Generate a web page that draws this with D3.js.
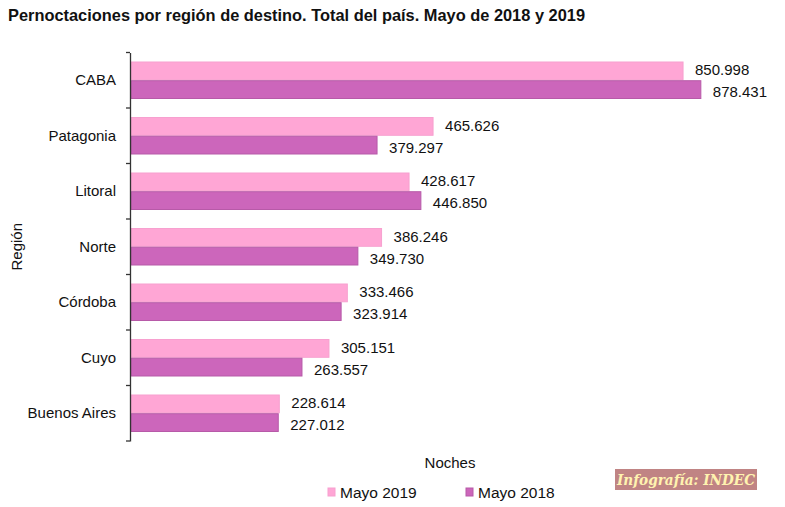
<!DOCTYPE html>
<meta charset="utf-8">
<script src="https://d3js.org/d3.v7.min.js"></script>
<style>
  body { margin: 0; background: #fff; }
  text { font-family: "Liberation Sans", Arial, sans-serif; }
</style>
<div id="chart"></div>
<script>

// data
var regions = ["CABA", "Patagonia", "Litoral", "Norte", "Córdoba", "Cuyo", "Buenos Aires"];
var series = ["Mayo 2019", "Mayo 2018"];
var may2019 = [850998, 465626, 428617, 386246, 333466, 305151, 228614];
var may2018 = [878431, 379297, 446850, 349730, 323914, 263557, 227012];
var colors = ["#ffa6d5", "#cc66bb"];
var strokes = ["#f7a0cf", "#b75aa8"];

var W = 785, H = 507;
var fmt = d3.format(",");
function label(v) { return fmt(v).replace(/,/g, "."); }

var rows = regions.map(function(r, i) {
  return { region: r, values: [may2019[i], may2018[i]] };
});

var svg = d3.select("#chart").append("svg")
  .attr("width", W).attr("height", H);

// scales
var x = d3.scaleLinear().domain([0, 1000000]).range([131, 131 + 648.7]);
var y = d3.scaleBand().domain(regions).range([52.5, 441]);
var y1 = d3.scaleBand().domain(series).range([9.5, 46]).paddingInner(0.05);

// title
svg.append("text")
  .attr("x", 8).attr("y", 21)
  .attr("textLength", 577).attr("lengthAdjust", "spacingAndGlyphs")
  .style("font-family", "'Liberation Sans Narrow', 'Liberation Sans', sans-serif")
  .style("font-weight", "bold").style("font-size", "17px")
  .style("fill", "#111")
  .text("Pernoctaciones por región de destino. Total del país. Mayo de 2018 y 2019");

// bars
var g = svg.selectAll(".grp")
  .data(rows)
  .enter().append("g")
    .attr("transform", function(d) { return "translate(0," + y(d.region) + ")"; });

g.selectAll("rect")
  .data(function(d) { return d.values.map(function(v, i) { return { key: series[i], i: i, v: v }; }); })
  .enter().append("rect")
    .attr("x", x(0))
    .attr("y", function(d) { return y1(d.key); })
    .attr("width", function(d) { return x(d.v) - x(0); })
    .attr("height", y1.bandwidth())
    .style("fill", function(d) { return colors[d.i]; })
    .style("stroke", function(d) { return strokes[d.i]; })
    .style("stroke-width", 1);

g.selectAll(".val")
  .data(function(d) { return d.values.map(function(v, i) { return { key: series[i], i: i, v: v }; }); })
  .enter().append("text")
    .attr("class", "val")
    .attr("x", function(d) { return x(d.v) + 12; })
    .attr("y", function(d) { return y1(d.key) + y1.bandwidth() / 2 + (d.i === 1 ? 2 : -1); })
    .attr("dominant-baseline", "central")
    .style("font-size", "15px").style("fill", "#111")
    .text(function(d) { return label(d.v); });

// y axis
var yAxis = svg.append("g")
  .attr("transform", "translate(130,0)")
  .call(d3.axisLeft(y).tickSize(0).tickPadding(14));
yAxis.select(".domain").attr("stroke", "#333").attr("stroke-width", 1.3);
yAxis.selectAll(".tick text")
  .style("font-size", "15px").style("fill", "#111")
  .style("font-family", "'Liberation Sans', Arial, sans-serif");

// boundary ticks between bands
var bounds = regions.map(function(r) { return y(r); }).concat([y.range()[1]]);
yAxis.selectAll(".bound")
  .data(bounds)
  .enter().append("line")
    .attr("x1", -4).attr("x2", 0)
    .attr("y1", function(d) { return d; }).attr("y2", function(d) { return d; })
    .attr("stroke", "#333").attr("stroke-width", 1.3);

// axis titles
svg.append("text")
  .attr("transform", "translate(22," + (y.range()[0] + y.range()[1]) / 2 + ") rotate(-90)")
  .attr("text-anchor", "middle")
  .style("font-size", "15px").style("fill", "#111")
  .text("Región");

svg.append("text")
  .attr("x", 450).attr("y", 468)
  .attr("text-anchor", "middle")
  .style("font-size", "15px").style("fill", "#111")
  .text("Noches");

// legend
var legX = [328, 466];
var leg = svg.selectAll(".leg")
  .data(series)
  .enter().append("g")
    .attr("transform", function(d, i) { return "translate(" + legX[i] + ",488)"; });
leg.append("rect")
  .attr("width", 7).attr("height", 8)
  .style("fill", function(d, i) { return colors[i]; })
  .style("stroke", function(d, i) { return strokes[i]; });
leg.append("text")
  .attr("x", 12).attr("y", 10)
  .style("font-size", "15.5px").style("fill", "#111")
  .text(function(d) { return d; });

// credit
svg.append("rect")
  .attr("x", 615).attr("y", 469).attr("width", 142).attr("height", 21)
  .style("fill", "#c08484");
svg.append("text")
  .attr("x", 686).attr("y", 485)
  .attr("text-anchor", "middle")
  .attr("textLength", 138).attr("lengthAdjust", "spacingAndGlyphs")
  .style("font-family", "'DejaVu Serif', 'Liberation Serif', serif")
  .style("font-style", "italic").style("font-weight", "bold")
  .style("font-size", "15px").style("fill", "#fff3b0")
  .text("Infografía: INDEC");

</script>
